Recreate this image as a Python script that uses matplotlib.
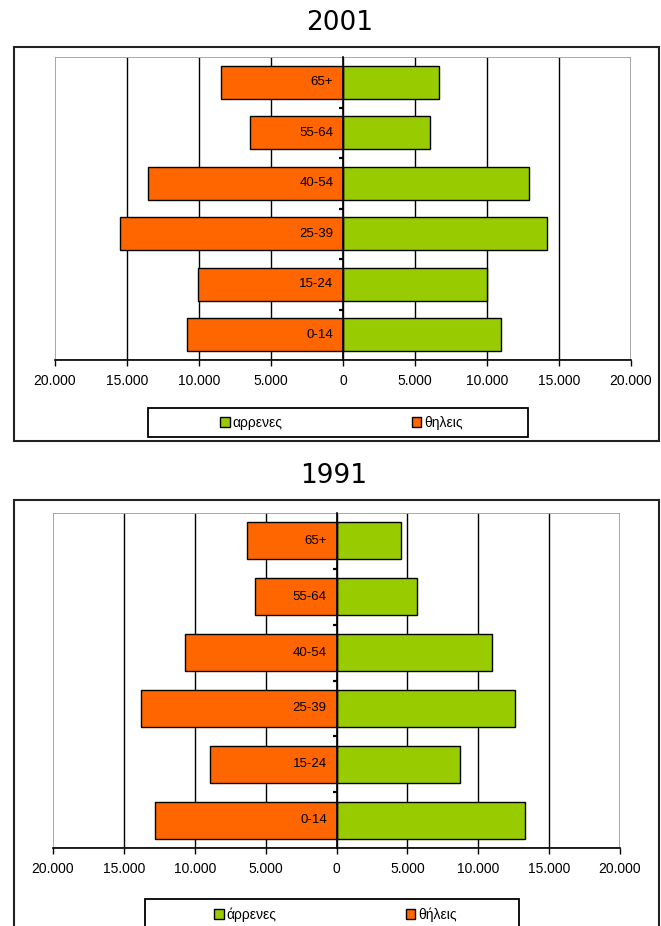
import numpy as np
import matplotlib
matplotlib.use("Agg")
import matplotlib.pyplot as plt
from matplotlib.patches import Rectangle

# data
ages = ['0-14', '15-24', '25-39', '40-54', '55-64', '65+']
male_2001 = [11000, 10000, 14200, 12950, 6020, 6670]
female_2001 = [10820, 10090, 15500, 13540, 6490, 8480]
male_1991 = [13330, 8740, 12590, 10960, 5690, 4530]
female_1991 = [12800, 8890, 13780, 10670, 5780, 6280]
x_ticks = np.arange(-20000, 20001, 5000)

plt.rcParams['font.family'] = ['Liberation Sans', 'DejaVu Sans']

W, H = 661, 926
fig = plt.figure(figsize=(W / 100, H / 100), dpi=100)
fig.patch.set_facecolor('white')

GREEN = '#99CC00'
ORANGE = '#FF6600'
GRAY = '#9a9a9a'


def px_rect(x0, y0, x1, y1):
    # pixel box (top-left origin) -> figure fraction rect
    return [x0 / W, 1 - y1 / H, (x1 - x0) / W, (y1 - y0) / H]


def pyramid(ax_box, male, female, year, title_y, frame_box, legend_box, legend_labels):
    # outer chart frame
    fx0, fy0, fx1, fy1 = frame_box
    fig.patches.append(Rectangle((fx0 / W, 1 - fy1 / H), (fx1 - fx0) / W, (fy1 - fy0) / H,
                                 transform=fig.transFigure, fill=False,
                                 edgecolor='#222222', linewidth=1.5))
    fig.text(ax_box[0] / W + (ax_box[2] - ax_box[0]) / W / 2 - 0.005, 1 - title_y / H, year,
             family='DejaVu Sans', fontsize=19, ha='center', va='center')

    ax = fig.add_axes(px_rect(*ax_box))
    y = np.arange(len(ages))
    ax.vlines([t for t in x_ticks if abs(t) < 20000], -0.5, len(ages) - 0.5,
              color='black', linewidth=1, zorder=0)
    ax.add_patch(Rectangle((0, 0), 1, 1, transform=ax.transAxes, fill=False,
                           edgecolor=GRAY, linewidth=1.2, zorder=0.5))
    bm = ax.barh(y, male, height=0.66, color=GREEN, edgecolor='black', linewidth=1, zorder=2)
    bf = ax.barh(y, -np.array(female), height=0.66, color=ORANGE, edgecolor='black',
                 linewidth=1, zorder=2)
    for i, a in enumerate(ages):
        ax.annotate(a, xy=(0, i), xytext=(-7, 0), textcoords='offset points',
                    ha='right', va='center', fontsize=9.5, zorder=3)

    ax.set_xlim(-20000, 20000)
    ax.set_ylim(-0.5, len(ages) - 0.5)
    ax.set_xticks(x_ticks)
    ax.set_xticklabels([f"{abs(int(t)):,}".replace(',', '.') for t in x_ticks])
    ax.set_yticks([])
    ax.set_yticks(np.arange(0.5, len(ages) - 1, 1), minor=True)
    ax.tick_params(axis='x', direction='out', length=4, width=1, pad=6, labelsize=10)
    ax.tick_params(axis='y', which='minor', direction='out', length=3, width=1.6)
    ax.spines['left'].set_position(('data', 0))
    ax.spines['left'].set_linewidth(1.2)
    ax.spines['bottom'].set_linewidth(1.2)
    ax.spines['top'].set_visible(False)
    ax.spines['right'].set_visible(False)
    ax.set_facecolor('white')

    # legend box
    lx0, ly0, lx1, ly1 = legend_box
    fig.patches.append(Rectangle((lx0 / W, 1 - ly1 / H), (lx1 - lx0) / W, (ly1 - ly0) / H,
                                 transform=fig.transFigure, fill=False,
                                 edgecolor='black', linewidth=1.3))
    fig.legend([bm, bf], legend_labels, loc='center',
               bbox_to_anchor=((lx0 + lx1) / 2 / W + 0.005, 1 - ((ly0 + ly1) / 2) / H),
               ncol=2, frameon=False, fontsize=10, columnspacing=9.3,
               handlelength=0.7, handleheight=0.7, handletextpad=0.2)
    return ax


pyramid((55, 57, 631, 360), male_2001, female_2001, '2001', 23,
        (14, 47, 659, 441), (148, 408, 528, 437), ['αρρενες', 'θηλεις'])
pyramid((53, 513, 620, 848), male_1991, female_1991, '1991', 476,
        (14, 500, 659, 940), (145, 899, 519, 930), ['άρρενες', 'θήλεις'])

fig.savefig('out.png', dpi=100, facecolor='white')
